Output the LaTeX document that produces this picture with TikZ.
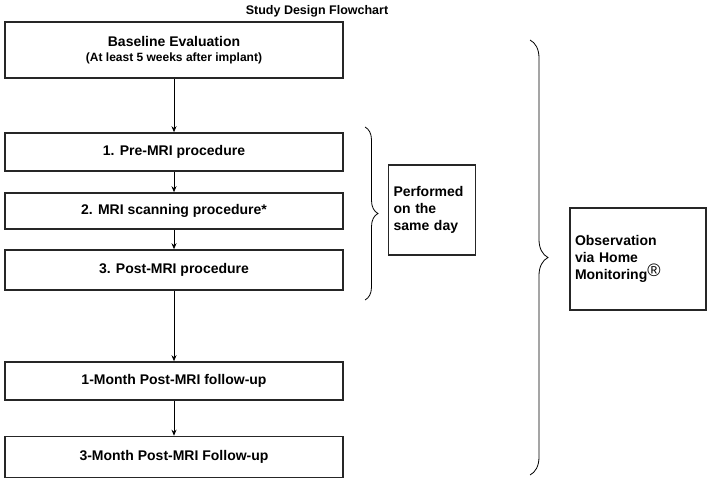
\documentclass[tikz,border=0pt]{standalone}
\usepackage{fontspec}
\setmainfont{Liberation Sans}
\usetikzlibrary{decorations.pathreplacing,arrows.meta}
\begin{document}
\begin{tikzpicture}[x=1pt,y=-1pt,
  box/.style={draw=black!85,line width=1.6pt,inner sep=0pt,font=\bfseries\fontsize{14}{17}\selectfont,align=center},
  arr/.style={-{Stealth[length=6pt,width=5pt]},line width=0.8pt},
  br/.style={decorate,decoration={brace,amplitude=#1},line width=0.8pt}]
\useasboundingbox (0,0) rectangle (711,484);
\node[font=\bfseries\fontsize{12.5}{14}\selectfont] (t) at (317,11) {Study Design Flowchart};
\node[box,minimum width=338,minimum height=56] (b) at (174,50) {Baseline Evaluation\\[-2pt]{\fontsize{12}{14}\selectfont(At least 5 weeks after implant)}};
\node[box,minimum width=338,minimum height=38] (p1) at (174,152) {1. Pre-MRI procedure};
\node[box,minimum width=338,minimum height=36] (p2) at (174,211) {2. MRI scanning procedure*};
\node[box,minimum width=338,minimum height=40] (p3) at (174,270) {3. Post-MRI procedure};
\node[box,minimum width=338,minimum height=38] (f1) at (174,381) {1-Month Post-MRI follow-up};
\node[box,minimum width=338,minimum height=41] (f3) at (174,457) {3-Month Post-MRI Follow-up};
\node[box,minimum width=87,minimum height=90,align=left,text width=77] (sd) at (432,210) {Performed\\on the\\same day};
\node[box,minimum width=136,minimum height=102,align=left,text width=126] (ob) at (638,259) {Observation\\via Home\\Monitoring\raisebox{3pt}{\normalfont\fontsize{18}{18}\selectfont\char"00AE}};
\draw[arr] (b) -- (p1);
\draw[arr] (p1) -- (p2);
\draw[arr] (p2) -- (p3);
\draw[arr] (p3) -- (f1);
\draw[arr] (f1) -- (f3);
\coordinate (s1) at (365,127); \coordinate (s2) at (365,300);
\draw[br=13pt] (s1) -- (s2);
\coordinate (l1) at (530,40); \coordinate (l2) at (530,475);
\draw[br=18pt] (l1) -- (l2);
\end{tikzpicture}
\end{document}
